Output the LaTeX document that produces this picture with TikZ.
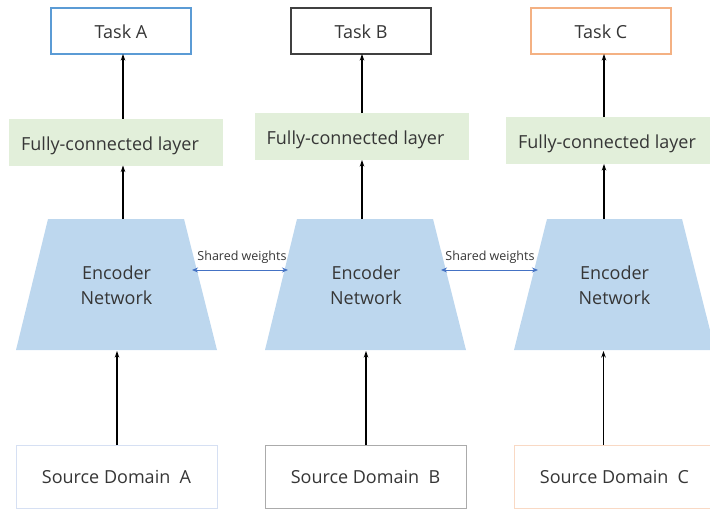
\documentclass[tikz,border=0pt]{standalone}
\usepackage{fontspec}
\setmainfont{Open Sans}
\usetikzlibrary{arrows.meta,calc}
\definecolor{txt}{HTML}{363636}
\definecolor{tA}{HTML}{5B9BD5}
\definecolor{tB}{HTML}{404040}
\definecolor{tC}{HTML}{F4B183}
\definecolor{fcfill}{HTML}{E2EFDA}
\definecolor{encfill}{HTML}{BDD7EE}
\definecolor{sA}{HTML}{D6E0F3}
\definecolor{sB}{HTML}{ABABAB}
\definecolor{sC}{HTML}{F9D9C4}
\definecolor{shared}{HTML}{4472C4}
\newcommand{\lowtxt}[2]{\raisebox{-#1}[0pt][0pt]{#2}}
\tikzset{
  base/.style={inner sep=0pt, outer sep=0pt, text=txt, font=\fontsize{18}{22}\selectfont},
  taskbox/.style={base, draw, line width=1.1pt, fill=white, minimum width=140pt, minimum height=46pt},
  fcbox/.style={base, fill=fcfill, minimum width=214pt, minimum height=47pt},
  srcbox/.style={base, draw, line width=0.9pt, fill=white, minimum width=201pt, minimum height=63pt},
  enctext/.style={base, align=center, font=\fontsize{18}{25}\selectfont},
  arr/.style={line width=1.2pt, black, -{Stealth[length=6.5pt,width=4.5pt]}},
  sharr/.style={line width=1pt, shared, {Stealth[length=6pt,width=5pt]}-{Stealth[length=6pt,width=5pt]}},
  shlabel/.style={base, font=\fontsize{12.5}{14}\selectfont},
}
\begin{document}
\begin{tikzpicture}[x=1pt,y=-1pt]
\useasboundingbox (0,0) rectangle (710,509);
\begin{scope}
\clip (0,0) rectangle (710,509);
% Tasks
\node[taskbox, draw=tA] (taskA) at (121,31) {\lowtxt{7pt}{Task A}};
\node[taskbox, draw=tB] (taskB) at (361,31) {\lowtxt{7pt}{Task B}};
\node[taskbox, draw=tC] (taskC) at (601,31) {\lowtxt{7pt}{Task C}};
% Fully-connected layers
\node[fcbox] (fcA) at (116,142) {\hspace*{-12pt}\lowtxt{8pt}{Fully-connected layer}};
\node[fcbox] (fcB) at (361.5,136.5) {\hspace*{-12pt}\lowtxt{8pt}{Fully-connected layer}};
\node[fcbox] (fcC) at (613,140.5) {\hspace*{-12pt}\lowtxt{8pt}{Fully-connected layer}};
% Encoders
\coordinate (eA1) at (16,350); \coordinate (eA2) at (217,350);
\coordinate (eA3) at (184,219); \coordinate (eA4) at (48,219);
\coordinate (eB1) at (265,350); \coordinate (eB2) at (466,350);
\coordinate (eB3) at (433,219); \coordinate (eB4) at (297,219);
\coordinate (eC1) at (514,350); \coordinate (eC2) at (715,350);
\coordinate (eC3) at (682,219); \coordinate (eC4) at (547,219);
\fill[encfill] (eA1) -- (eA2) -- (eA3) -- (eA4) -- cycle;
\fill[encfill] (eB1) -- (eB2) -- (eB3) -- (eB4) -- cycle;
\fill[encfill] (eC1) -- (eC2) -- (eC3) -- (eC4) -- cycle;
\node[enctext] (encA) at (116.5,285.5) {Encoder\\Network};
\node[enctext] (encB) at (366,285.5) {Encoder\\Network};
\node[enctext] (encC) at (614.5,285.5) {Encoder\\Network};
% Sources
\node[srcbox, draw=sA] (srcA) at (116.5,476.5) {\lowtxt{7pt}{Source Domain~~A}};
\node[srcbox, draw=sB] (srcB) at (365.5,476.5) {\lowtxt{7pt}{Source Domain~~B}};
\node[srcbox, draw=sC] (srcC) at (614.5,476.5) {\lowtxt{7pt}{Source Domain~~C}};
% Arrows FC -> Task
\draw[arr] (fcA.north -| 123,0) -- (taskA.south -| 123,0);
\draw[arr] (fcB.north -| 362,0) -- (taskB.south -| 362,0);
\draw[arr] (fcC.north -| 604,0) -- (taskC.south -| 604,0);
% Arrows Encoder -> FC
\draw[arr] (eA4 -| 123,0) -- (fcA.south -| 123,0);
\draw[arr] (eB4 -| 362,0) -- (fcB.south -| 362,0);
\draw[arr] (eC4 -| 604,0) -- (fcC.south -| 604,0);
% Arrows Source -> Encoder
\draw[arr] (srcA.north -| 117,0) -- ($(eA1 -| 117,0)+(0,1)$);
\draw[arr] (srcB.north -| 366,0) -- ($(eB1 -| 366,0)+(0,1)$);
\draw[arr] (srcC.north -| 603.5,0) -- ($(eC1 -| 603.5,0)+(0,1)$);
% Shared weights
\coordinate (swA1) at (192,270); \coordinate (swA2) at (288,270);
\coordinate (swB1) at (441,270); \coordinate (swB2) at (538,270);
\draw[sharr] (swA1) -- (swA2);
\draw[sharr] (swB1) -- (swB2);
\node[shlabel] (shA) at (242,257) {Shared weights};
\node[shlabel] (shB) at (490,257.5) {Shared weights};
\end{scope}
\end{tikzpicture}
\end{document}
